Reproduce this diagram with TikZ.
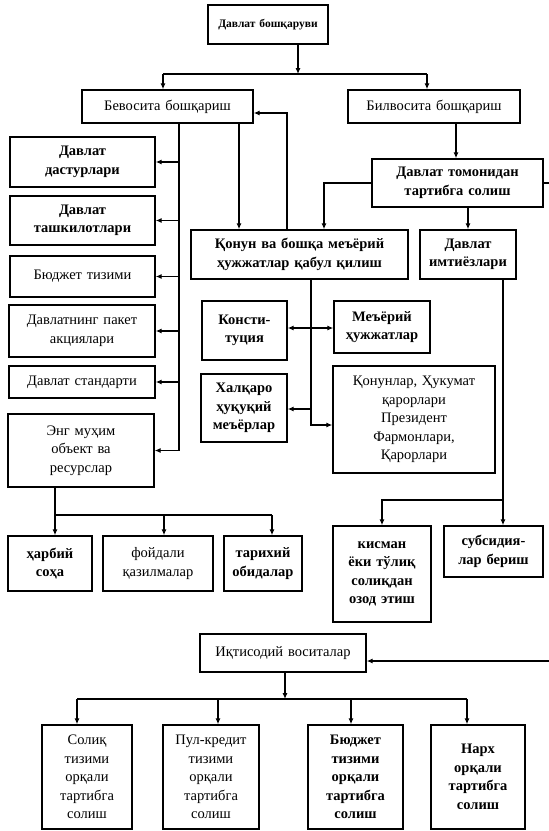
\documentclass[tikz,border=0pt]{standalone}
\usepackage{fontspec}
\setmainfont{Liberation Serif}
\usetikzlibrary{arrows.meta}
\newcommand\mybox[7]{%
 \pgfmathsetmacro\mbcx{(#2+#4)/2}%
 \pgfmathsetmacro\mbcy{(#3+#5)/2}%
 \pgfmathsetmacro\mbw{#4-#2}%
 \pgfmathsetmacro\mbh{#5-#3}%
 \pgfmathsetmacro\mbt{#4-#2-6}%
 \node[box,#6,minimum width=\mbw pt,minimum height=\mbh pt,text width=\mbt pt] (#1) at (\mbcx,\mbcy) {#7};}
\begin{document}
\begin{tikzpicture}[x=1pt,y=-1pt,
  box/.style={draw, line width=1.4pt, align=center, inner xsep=3pt, inner ysep=0pt,
    font=\fontsize{14.5}{18.5}\selectfont},
  hv/.style={font=\fontsize{14.5}{18.5}\selectfont\bfseries},
  link/.style={line width=1.1pt},
  arr/.style={link, -{Latex[length=6pt,width=5pt]}},
]
\useasboundingbox[fill=white] (0,0) rectangle (549,831);

% top
\mybox{T}{208}{5}{328}{44}{font=\fontsize{11.5}{13}\selectfont\bfseries}{Давлат бошқаруви}
\mybox{B1}{82}{90}{253}{123}{}{Бевосита бошқариш}
\mybox{B2}{348}{90}{520}{123}{}{Билвосита бошқариш}

% left column
\mybox{L1}{10}{137}{155}{187}{hv}{Давлат\\дастурлари}
\mybox{L2}{10}{196}{155}{245}{hv}{Давлат\\ташкилотлари}
\mybox{L3}{10}{256}{155}{297}{}{Бюджет тизими}
\mybox{L4}{9}{305}{155}{357}{}{Давлатнинг пакет\\акциялари}
\mybox{L5}{9}{366}{155}{398}{}{Давлат стандарти}
\mybox{L6}{8}{414}{154}{487}{}{Энг муҳим\\объект ва\\ресурслар}
\mybox{C1}{8}{536}{92}{591}{hv}{ҳарбий\\соҳа}
\mybox{C2}{103}{536}{213}{591}{}{фойдали\\қазилмалар}
\mybox{C3}{224}{536}{302}{591}{hv}{тарихий\\обидалар}

% middle / right
\mybox{D}{372}{159}{543}{207}{font=\fontsize{14.5}{18.5}\selectfont\bfseries}{Давлат томонидан\\тартибга солиш}
\mybox{Q}{191}{230}{408}{279}{hv}{Қонун ва бошқа меъёрий\\ҳужжатлар қабул қилиш}
\mybox{I}{420}{230}{516}{279}{hv}{Давлат\\имтиёзлари}
\mybox{K}{202}{301}{287}{360}{hv}{Консти-\\туция}
\mybox{M}{334}{301}{430}{353}{hv}{Меъёрий\\ҳужжатлар}
\mybox{H}{201}{374}{287}{442}{hv}{Халқаро\\ҳуқуқий\\меъёрлар}
\mybox{P}{333}{366}{495}{473}{}{Қонунлар, Ҳукумат\\қарорлари\\Президент\\Фармонлари,\\Қарорлари}
\mybox{S1}{333}{526}{431}{622}{hv}{кисман\\ёки тўлиқ\\солиқдан\\озод этиш}
\mybox{S2}{444}{526}{543}{577}{hv}{субсидия-\\лар бериш}

% bottom
\mybox{E}{200}{634}{366}{672}{}{Иқтисодий воситалар}
\mybox{F1}{42}{725}{132}{829}{}{Солиқ\\тизими\\орқали\\тартибга\\солиш}
\mybox{F2}{163}{725}{259}{829}{}{Пул-кредит\\тизими\\орқали\\тартибга\\солиш}
\mybox{F3}{308}{725}{403}{829}{hv}{Бюджет\\тизими\\орқали\\тартибга\\солиш}
\mybox{F4}{431}{725}{525}{829}{hv}{Нарх\\орқали\\тартибга\\солиш}

% coordinates
\coordinate (j0) at (298,74);
\coordinate (jl) at (163,74);
\coordinate (jr) at (427,74);
\coordinate (tr) at (179,0);
\coordinate (q1) at (239,0);
\coordinate (r1) at (287,113);
\coordinate (c6) at (55,515);
\coordinate (a2) at (164,515);
\coordinate (a3) at (272,515);
\coordinate (d1) at (456,0);
\coordinate (d2) at (324,183);
\coordinate (d3) at (468,0);
\coordinate (dr) at (549,183);
\coordinate (qt) at (311,0);
\coordinate (qb) at (311,425);
\coordinate (km) at (311,328);
\coordinate (hq) at (311,409);
\coordinate (ib) at (503,500);
\coordinate (is) at (382,500);
\coordinate (er) at (549,661);
\coordinate (e0) at (285,699);
\coordinate (f1) at (77,699);
\coordinate (f2) at (218,699);
\coordinate (f3) at (351,699);
\coordinate (f4) at (467,699);

% connectors top
\draw[arr] (j0 |- T.south) -- (j0);
\draw[link] (jl) -- (jr);
\draw[arr] (jl) -- (jl |- B1.north);
\draw[arr] (jr) -- (jr |- B2.north);

% left trunk
\draw[link] (tr |- B1.south) -- (tr |- L6.east);
\foreach \n in {L1,L2,L3,L4,L5,L6}{\draw[arr] (tr |- \n.east) -- (\n.east);}
\draw[link] (c6 |- L6.south) -- (c6) -- (a3);
\draw[arr] (c6) -- (c6 |- C1.north);
\draw[arr] (a2) -- (a2 |- C2.north);
\draw[arr] (a3) -- (a3 |- C3.north);

% B1 <-> Q
\draw[arr] (q1 |- B1.south) -- (q1 |- Q.north);
\draw[arr] (r1 |- Q.north) -- (r1) -- (r1 -| B1.east);

% B2 -> D
\draw[arr] (d1 |- B2.south) -- (d1 |- D.north);
\draw[arr] (D.west |- d2) -- (d2) -- (d2 |- Q.north);
\draw[link] (D.east |- dr) -- (dr);
\draw[arr] (d3 |- D.south) -- (d3 |- I.north);

% Q trunk
\draw[arr] (qt |- Q.south) -- (qb) -- (qb -| P.west);
\draw[arr] (km) -- (km -| K.east);
\draw[arr] (km) -- (km -| M.west);
\draw[arr] (hq) -- (hq -| H.east);

% I -> S
\draw[arr] (ib |- I.south) -- (ib) -- (ib |- S2.north);
\draw[arr] (ib) -- (is) -- (is |- S1.north);

% bottom
\draw[arr] (er) -- (er -| E.east);
\draw[arr] (e0 |- E.south) -- (e0);
\draw[link] (f1) -- (f4);
\foreach \a/\b in {f1/F1,f2/F2,f3/F3,f4/F4}{\draw[arr] (\a) -- (\a |- \b.north);}
\end{tikzpicture}
\end{document}
